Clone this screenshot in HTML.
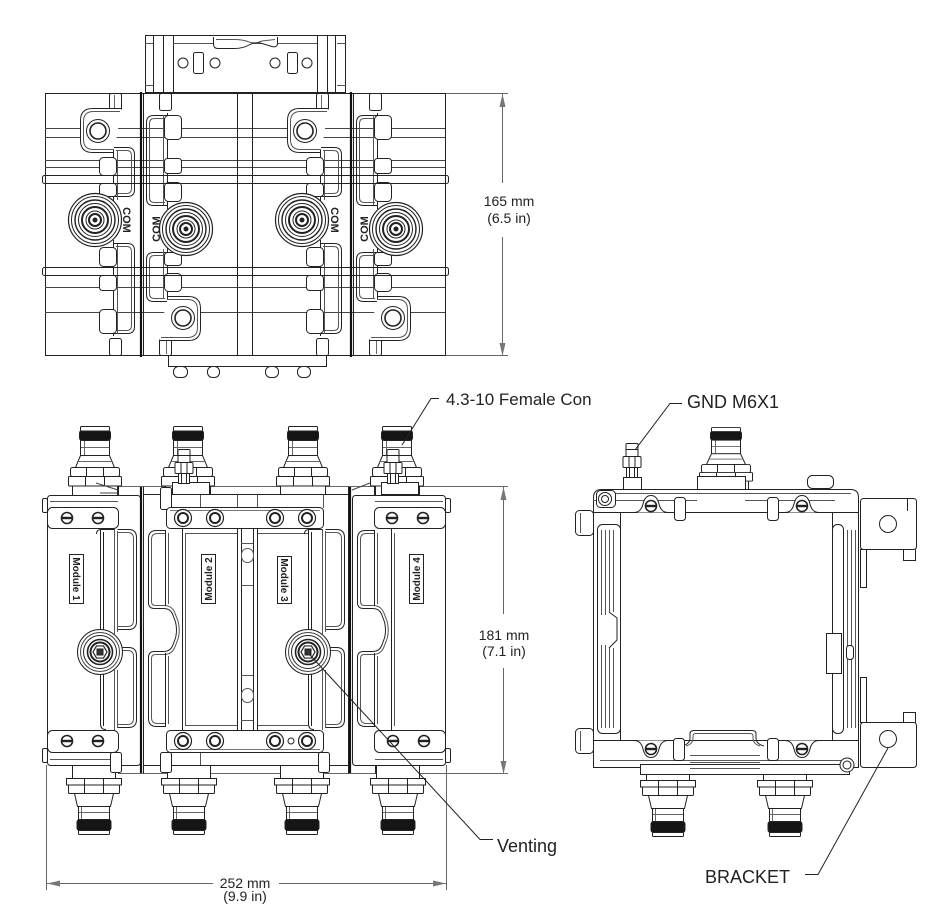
<!DOCTYPE html>
<html><head><meta charset="utf-8">
<style>
html,body{margin:0;padding:0;background:#fff}
body{width:934px;height:920px;overflow:hidden}
svg{display:block}
text{font-family:"Liberation Sans",Arial,sans-serif;fill:#222}
</style></head><body>
<svg xmlns="http://www.w3.org/2000/svg" width="934" height="920" viewBox="0 0 934 920">
<defs>
<g id="tm" fill="#fff" stroke="#222" stroke-width="1">
 <rect x="109.5" y="93.5" width="12" height="17" rx="2"/>
 <line x1="114.5" y1="95" x2="114.5" y2="109" stroke="#666"/>
 <path d="M121.5 108.5H92.5Q80.5 108.5 80.5 120.5V140.5Q80.5 152.5 92.5 152.5H114"/>
 <path d="M120 111.5H93.5Q83.5 111.5 83.5 121.5V139.5Q83.5 149.5 93.5 149.5H114" fill="none" stroke="#555"/>
 <circle cx="98" cy="131" r="11.5"/>
 <circle cx="98" cy="131" r="8" stroke-width="1.6"/>
 <path d="M114 147.5H127.5Q134.5 147.5 134.5 154.5V189.5Q134.5 196.5 127.5 196.5H114" fill="none"/>
 <path d="M116 150.5H126.5Q131.5 150.5 131.5 155.5V188.5Q131.5 193.5 126.5 193.5H116" fill="none" stroke="#555"/>
 <line x1="113.5" y1="150" x2="113.5" y2="204"/>
 <line x1="117.5" y1="150" x2="117.5" y2="200" stroke="#555"/>
 <rect x="99.5" y="157.5" width="17" height="18" rx="4"/>
 <rect x="99.5" y="183.5" width="17" height="13" rx="3"/>
 <circle cx="95" cy="220" r="26.5" stroke-width="1.2"/>
 <circle cx="95" cy="220" r="23.5" fill="none"/>
 <circle cx="95" cy="220" r="20" fill="none" stroke-width="1.4"/>
 <circle cx="95" cy="220" r="16.5" fill="none"/>
 <circle cx="95" cy="220" r="13" fill="none" stroke-width="2"/>
 <circle cx="95" cy="220" r="9" fill="none"/>
 <circle cx="95" cy="220" r="6" fill="none" stroke-width="2"/>
 <circle cx="95" cy="220" r="2" fill="#222"/>
 <path d="M114 243.5H127.5Q134.5 243.5 134.5 250.5V326.5Q134.5 333.5 127.5 333.5H114" fill="none"/>
 <path d="M116 246.5H126.5Q131.5 246.5 131.5 251.5V325.5Q131.5 330.5 126.5 330.5H116" fill="none" stroke="#555"/>
 <line x1="113.5" y1="240" x2="113.5" y2="336"/>
 <line x1="117.5" y1="244" x2="117.5" y2="334" stroke="#555"/>
 <rect x="99.5" y="247.5" width="17" height="19" rx="4"/>
 <rect x="99.5" y="275.5" width="17" height="15" rx="3"/>
 <rect x="99.5" y="309.5" width="17" height="24" rx="4"/>
 <rect x="109.5" y="338.5" width="12" height="17" rx="2"/>
</g>
<g id="ct" fill="#fff" stroke="#222" stroke-width="1">
 <rect x="-22.5" y="485.5" width="45" height="10"/>
 <rect x="-26.5" y="476.5" width="53" height="9.5" rx="1"/>
 <path d="M-9.5 477V486M9.5 477V486" fill="none"/>
 <rect x="-24.5" y="467.5" width="49" height="9" rx="2"/>
 <path d="M-8.5 468V476M8.5 468V476" fill="none"/>
 <path d="M-14.5 455.5L-19.5 467.5H19.5L14.5 455.5Z"/>
 <path d="M-17 461.5H17" fill="none" stroke="#666"/>
 <rect x="-14.5" y="439.5" width="29" height="16"/>
 <path d="M-14 447.5H14M-10.5 440V455" fill="none" stroke="#666"/>
 <rect x="-15.5" y="430.5" width="31" height="10" rx="2.5" fill="#151515"/>
 <rect x="-14.5" y="426.5" width="29" height="4.5" rx="1"/>
</g>
<g id="cb" fill="#fff" stroke="#222" stroke-width="1">
 <rect x="-21.5" y="765.5" width="43" height="13"/>
 <rect x="-27.5" y="778.5" width="55" height="6.5"/>
 <rect x="-25.5" y="785" width="51" height="8.5" rx="1"/>
 <path d="M-9.5 779V793M9.5 779V793" fill="none"/>
 <path d="M-19.5 793.5L-16.5 806.5H16.5L19.5 793.5Z"/>
 <rect x="-15.5" y="806.5" width="31" height="13"/>
 <path d="M-15 812.5H15M-12.5 807V819" fill="none" stroke="#666"/>
 <rect x="-17" y="819.5" width="34" height="11" rx="2.5" fill="#151515"/>
 <rect x="-15.5" y="830.5" width="31" height="4" rx="1"/>
</g>
<g id="ss">
 <circle r="5.5" fill="#fff" stroke="#222" stroke-width="1.6"/>
 <rect x="-5" y="-1.2" width="10" height="2.4" fill="#222"/>
</g>
<g id="sd">
 <circle r="8.5" fill="#fff" stroke="#222" stroke-width="1.2"/>
 <circle r="5" fill="none" stroke="#222" stroke-width="2"/>
</g>
<g id="vent">
 <circle r="22.5" fill="#fff" stroke="#222"/>
 <circle r="19.5" fill="none" stroke="#444"/>
 <circle r="16.5" fill="none" stroke="#222"/>
 <circle r="12.5" fill="none" stroke="#222" stroke-width="1.6"/>
 <circle r="9.5" fill="none" stroke="#222" stroke-width="2"/>
 <polygon points="7,0 3.5,6.06 -3.5,6.06 -7,0 -3.5,-6.06 3.5,-6.06" fill="#fff" stroke="#222" stroke-width="1.2"/>
 <rect x="-3" y="-3" width="6" height="6" fill="#333"/>
</g>
<g id="chR" fill="none" stroke="#222" stroke-width="1">
 <path d="M96.5 534Q96.5 529.5 101 529.5H114"/>
 <path d="M100.5 530V634M103.5 532V632"/>
 <path d="M114.5 529V634M117.5 531V632" stroke="#555"/>
 <path d="M117.5 529.5H128.5Q136.5 529.5 136.5 537.5V621.5Q136.5 629.5 128.5 629.5H118"/>
 <path d="M118 532.5H127.5Q133.5 532.5 133.5 538.5V620.5Q133.5 626.5 127.5 626.5H118" stroke="#555"/>
 <path d="M118 647.5H128.5Q136.5 647.5 136.5 655.5V719.5Q136.5 727.5 128.5 727.5H118"/>
 <path d="M118 650.5H127.5Q133.5 650.5 133.5 656.5V718.5Q133.5 724.5 127.5 724.5H118" stroke="#555"/>
 <path d="M100.5 670V724Q100.5 729.5 106 729.5M103.5 670V726"/>
 <path d="M114.5 670V730M117.5 670V728" stroke="#555"/>
 <use href="#vent" x="100" y="652"/>
</g>
<g id="chL" fill="none" stroke="#222" stroke-width="1">
 <path d="M165.5 530.5H156.5Q148.5 530.5 148.5 538.5V602.5Q148.5 608.5 154.5 608.5H164Q170 608.5 172.5 614L175.5 622Q177.5 630 175.5 638L172.5 646Q170 651.5 164 651.5H154.5Q148.5 651.5 148.5 657.5V718.5Q148.5 726.5 156.5 726.5H165.5"/>
 <path d="M165.5 533.5H157.5Q151.5 533.5 151.5 539.5V601.5Q151.5 605.5 155.5 605.5H164Q171.5 605.5 174.5 612L178 621Q180.5 630 178 639L174.5 648Q171.5 654.5 164 654.5H155.5Q151.5 654.5 151.5 658.5V717.5Q151.5 723.5 157.5 723.5H165.5" stroke="#555"/>
 <path d="M165.5 530V606M165.5 653V727"/>
 <path d="M168.5 533V604M168.5 656V724" stroke="#555"/>
 <path d="M182.5 529V730"/>
 <path d="M185.5 533V726" stroke="#555"/>
</g>
<g id="stud" fill="#fff" stroke="#222" stroke-width="1">
 <rect x="-5.5" y="473.5" width="11" height="10"/>
 <path d="M-2.5 474V483M2.5 474V483" fill="none"/>
 <rect x="-9" y="462.5" width="18" height="11" rx="1"/>
 <path d="M-3 463V473M3 463V473" fill="none"/>
 <rect x="-6" y="449.5" width="12" height="13" rx="1"/>
 <path d="M-6 455.5H6" fill="none"/>
</g>
</defs>
<rect width="934" height="920" fill="#fff"/>

<!-- ============ TOP VIEW ============ -->
<g fill="none" stroke="#222" stroke-width="1">
 <rect x="145.5" y="35.5" width="200" height="57" fill="#fff"/>
 <path d="M153.5 36V92M163.5 36V92M173.5 36V92M317.5 36V92M327.5 36V92M335.5 36V92"/>
 <path d="M173 43.5H317" stroke="#555"/>
 <path d="M145 43.5H153M337 43.5H346M145 85.5H153M337 85.5H346" stroke="#555"/>
 <path d="M213.5 37V44Q213.5 48.5 218 48.5H234Q243 48.5 249 45Q255 41.5 262 43.5L272 46.5Q277.5 48 277.5 43V37" fill="#fff"/>
 <path d="M216 39.5H234Q243 39.5 249 42Q255 44 262 41L275 39.5" stroke="#555"/>
 <rect x="193.5" y="52.5" width="10" height="21" rx="2"/>
 <rect x="287.5" y="52.5" width="10" height="21" rx="2"/>
 <circle cx="183" cy="63" r="5"/><circle cx="215" cy="63" r="5"/>
 <circle cx="275" cy="63" r="5"/><circle cx="307" cy="63" r="5"/>
 <rect x="45.5" y="93.5" width="400" height="262" fill="#fff"/>
 <path d="M45 128.5H445M45 137.5H445M45 160.5H445M45 167.5H445M45 287.5H445M45 312.5H445" stroke="#444"/>
 <path d="M143.5 93V356M237.5 93V356M252.5 93V356M353.5 93V356"/>
</g>
<use href="#tm"/>
<use href="#tm" transform="translate(96,0) rotate(180 92.5 224.5)"/>
<use href="#tm" transform="translate(207,0)"/>
<use href="#tm" transform="translate(306,0) rotate(180 92.5 224.5)"/>
<g fill="none" stroke="#222" stroke-width="1">
 <rect x="42.5" y="175.5" width="406" height="8" rx="2"/>
 <rect x="42.5" y="267.5" width="406" height="8" rx="2"/>
 <rect x="168.5" y="355.5" width="158" height="11" fill="#fff"/>
 <rect x="173.5" y="366.5" width="14" height="11" rx="5"/>
 <rect x="207.5" y="366.5" width="12" height="11" rx="5"/>
 <rect x="265.5" y="366.5" width="13" height="11" rx="5"/>
 <rect x="297.5" y="366.5" width="13" height="11" rx="5"/>
</g>
<path d="M141 92V357M351 92V357" stroke="#111" stroke-width="2.2"/>
<g font-size="11" font-weight="bold" text-anchor="middle">
 <text transform="translate(123,220) rotate(90)">COM</text>
 <text transform="translate(160,229) rotate(-90)">COM</text>
 <text transform="translate(331,220) rotate(90)">COM</text>
 <text transform="translate(368,229) rotate(-90)">COM</text>
</g>

<!-- 165 dim -->
<g stroke="#666" stroke-width="1" fill="none">
 <path d="M446 93.5H508M446 355.5H508"/>
 <path d="M502.5 94V183M502.5 237V356"/>
</g>
<g fill="#777">
 <polygon points="502.5,94 499.5,107 505.5,107"/>
 <polygon points="502.5,356 499.5,343 505.5,343"/>
</g>
<g font-size="14" text-anchor="middle">
 <text x="509" y="206">165 mm</text>
 <text x="509" y="223">(6.5 in)</text>
</g>

<!-- ============ FRONT VIEW ============ -->
<g stroke="#666" stroke-width="1" fill="none">
 <path d="M118 486.5H508M118 773.5H508"/>
 <path d="M46.5 765V890M446.5 765V890"/>
 <path d="M503.5 487V614M503.5 668V774"/>
 <path d="M47 883.5H213M279 883.5H446"/>
</g>
<g fill="#777">
 <polygon points="503.5,487 500.5,500 506.5,500"/>
 <polygon points="503.5,774 500.5,761 506.5,761"/>
 <polygon points="47,883.5 60,880.5 60,886.5"/>
 <polygon points="446,883.5 433,880.5 433,886.5"/>
</g>

<use href="#ct" x="95"/>
<use href="#ct" x="188"/>
<use href="#ct" x="303"/>
<use href="#ct" x="397"/>
<use href="#cb" x="94"/>
<use href="#cb" x="189"/>
<use href="#cb" x="302"/>
<use href="#cb" x="398"/>

<g fill="#fff" stroke="#222" stroke-width="1">
 <rect x="42.5" y="498.5" width="5" height="14" rx="1.5"/>
 <rect x="42.5" y="748.5" width="5" height="14" rx="1.5"/>
 <rect x="445.5" y="498.5" width="5" height="14" rx="1.5"/>
 <rect x="445.5" y="748.5" width="5" height="14" rx="1.5"/>
 <rect x="47.5" y="495.5" width="93" height="270" rx="3"/>
 <rect x="143.5" y="494.5" width="205" height="271"/>
 <rect x="352.5" y="495.5" width="93" height="270" rx="3"/>
 <path d="M118.5 495V486.5M118.5 765V773.5M143.5 494V486.5M143.5 766V773.5M348.5 494V486.5M348.5 766V773.5M375.5 495V486.5M375.5 765V773.5" fill="none"/>
 <path d="M50 501.5H118M50 759.5H118M375 501.5H443M375 759.5H443" fill="none" stroke="#555"/>
 <path d="M200.5 494.5V508M323.5 494.5V508M200.5 752V765M323.5 752V765M237.5 494V508M257.5 494V508" fill="none" stroke="#555"/>
 <path d="M96 483L118 490M100 493H118M370 483L352 490" fill="none" stroke="#444"/>
 <rect x="160.5" y="487.5" width="11" height="22" rx="2"/>
 <rect x="110.5" y="752.5" width="11" height="20" rx="2"/>
 <rect x="160.5" y="752.5" width="11" height="20" rx="2"/>
 <rect x="318.5" y="752.5" width="11" height="20" rx="2"/>
</g>

<!-- panels / spine -->
<g fill="none" stroke="#222" stroke-width="1">
 <path d="M185 533.5H237M257 533.5H308M185 725.5H237M257 725.5H308" stroke="#555"/>
 <path d="M237.5 529V730M241.5 529V730M253.5 529V730M257.5 529V730"/>
 <path d="M241 543.5H253M241 585.5H253M241 675.5H253M241 720.5H253" stroke="#555"/>
 <rect x="241.5" y="548.5" width="12" height="14" rx="6" stroke="#555"/>
 <rect x="241.5" y="688.5" width="12" height="14" rx="6" stroke="#555"/>
 <path d="M391.5 529V730M394.5 533V726" stroke="#555"/>
</g>
<use href="#chR"/>
<use href="#chR" transform="translate(208,0)"/>
<use href="#chL"/>
<use href="#chL" transform="translate(209,0)"/>

<!-- bars -->
<g fill="#fff" stroke="#222" stroke-width="1">
 <rect x="47.5" y="507.5" width="71" height="21" rx="5"/>
 <rect x="47.5" y="730.5" width="71" height="22" rx="5"/>
 <rect x="374.5" y="507.5" width="71" height="21" rx="5"/>
 <rect x="374.5" y="730.5" width="71" height="22" rx="5"/>
 <rect x="166.5" y="507.5" width="157" height="21" rx="4"/>
 <rect x="166.5" y="730.5" width="157" height="22" rx="4"/>
 <path d="M170 510.5H320M170 749.5H320" fill="none" stroke="#777"/>
 <circle cx="291" cy="741" r="3" fill="none"/>
</g>
<use href="#ss" x="67" y="518"/><use href="#ss" x="98" y="518"/>
<use href="#ss" x="392" y="518"/><use href="#ss" x="423" y="518"/>
<use href="#ss" x="67" y="741"/><use href="#ss" x="98" y="741"/>
<use href="#ss" x="393" y="741"/><use href="#ss" x="424" y="741"/>
<use href="#sd" x="183" y="518"/><use href="#sd" x="215" y="518"/>
<use href="#sd" x="275" y="518"/><use href="#sd" x="307" y="518"/>
<use href="#sd" x="183" y="741"/><use href="#sd" x="215" y="741"/>
<use href="#sd" x="275" y="741"/><use href="#sd" x="307" y="741"/>

<!-- studs front -->
<g fill="#fff" stroke="#222" stroke-width="1">
 <rect x="172.5" y="482.5" width="37" height="12"/>
 <rect x="381.5" y="482.5" width="37" height="12"/>
</g>
<use href="#stud" x="184"/>
<use href="#stud" x="393"/>

<!-- module labels -->
<g fill="#fff" stroke="#222" stroke-width="1">
 <rect x="69.5" y="554.5" width="14" height="49"/>
 <rect x="201.5" y="554.5" width="14" height="49"/>
 <rect x="277.5" y="556.5" width="14" height="47"/>
 <rect x="409.5" y="554.5" width="14" height="49"/>
</g>
<g font-size="10" font-weight="bold" text-anchor="middle">
 <text transform="translate(73,579) rotate(90)">Module 1</text>
 <text transform="translate(212,579) rotate(-90)">Module 2</text>
 <text transform="translate(281,580) rotate(90)">Module 3</text>
 <text transform="translate(420,579) rotate(-90)">Module 4</text>
</g>

<path d="M141 487V773M350 487V773" stroke="#111" stroke-width="2.2"/>

<g font-size="14" text-anchor="middle">
 <text x="504" y="640">181 mm</text>
 <text x="504" y="656">(7.1 in)</text>
 <text x="245" y="888">252 mm</text>
 <text x="245" y="901">(9.9 in)</text>
</g>

<!-- ============ RIGHT VIEW ============ -->
<use href="#cb" transform="translate(668,2)"/>
<use href="#cb" transform="translate(785,2)"/>
<use href="#ct" transform="translate(726,428) scale(1,0.9) translate(0,-427)"/>
<g fill="#fff" stroke="#222" stroke-width="1">
 <rect x="697.5" y="476.5" width="48" height="13"/>
 <rect x="623.5" y="477.5" width="18" height="12"/>
 <rect x="807.5" y="475.5" width="26" height="13" rx="5"/>
</g>
<use href="#stud" transform="translate(632,-6)"/>

<g fill="#fff" stroke="#222" stroke-width="1">
 <rect x="860.5" y="498.5" width="56" height="51" rx="3"/>
 <path d="M907.5 499V511" fill="none"/>
 <circle cx="888" cy="524" r="8.5"/>
 <path d="M903.5 549.5V560.5H915.5V549.5" fill="none"/>
 <rect x="860.5" y="549.5" width="6" height="38"/>
 <rect x="860.5" y="677.5" width="6" height="45"/>
 <path d="M903.5 722.5V712.5H915.5V722.5" fill="none"/>
 <rect x="860.5" y="722.5" width="56" height="45" rx="3"/>
 <circle cx="888" cy="739" r="8.5"/>

 <rect x="575.5" y="510.5" width="18" height="25" rx="4"/>
 <path d="M580.5 513V533" fill="none" stroke="#555"/>
 <rect x="575.5" y="728.5" width="18" height="25" rx="4"/>
 <path d="M580.5 731V751" fill="none" stroke="#555"/>

 <path d="M593.5 767.5V497.5Q593.5 489.5 601.5 489.5H850.5Q858.5 489.5 858.5 497.5V767.5Z"/>
 <rect x="640.5" y="764.5" width="209" height="10"/>
 <rect x="620.5" y="512.5" width="212" height="228"/>

 <path d="M600 493.5H851M593 500.5H599M615 500.5H697M745 500.5H835" fill="none" stroke="#555"/>
 <path d="M593 512.5H858M593 740.5H858" fill="none"/>
 <rect x="596.5" y="490.5" width="19" height="17" rx="4"/>
 <circle cx="605" cy="499" r="6.5"/>
 <circle cx="605" cy="499" r="3.5" fill="none"/>
 <path d="M634 512.5Q641 512.5 643 504Q645 495.5 651 495.5Q657 495.5 659 504Q661 512.5 668 512.5"/>
 <path d="M785 512.5Q792 512.5 794 504Q796 495.5 802 495.5Q808 495.5 810 504Q812 512.5 819 512.5"/>
 <rect x="674.5" y="497.5" width="11" height="23" rx="3"/>
 <rect x="767.5" y="497.5" width="11" height="23" rx="3"/>

 <rect x="597.5" y="524.5" width="23" height="209" rx="5" fill="none"/>
 <path d="M601.5 530V615M605.5 530V615M609.5 530V612M613.5 530V612M601.5 645V728M605.5 645V728M609.5 648V728M613.5 648V728" fill="none" stroke="#555"/>
 <path d="M609 612L617 618V640L609 648" fill="none"/>
 <rect x="832.5" y="524.5" width="11" height="209" rx="5" fill="none"/>
 <path d="M847.5 530V728M851.5 530V728M855.5 530V728" fill="none" stroke="#555"/>
 <rect x="826.5" y="633.5" width="15" height="40"/>
 <rect x="846.5" y="645.5" width="7" height="14" rx="3"/>

 <path d="M600 760.5H851" fill="none" stroke="#555"/>
 <path d="M690 755.5H760M690 762.5H760M690 768.5H760" fill="none" stroke="#555"/>
 <path d="M682 746Q690 744 690 738V734Q690 730.5 694 730.5H752Q756 730.5 756 734V738Q756 744 764 746" fill="none"/>
 <path d="M686 746Q693 744 693 738V736Q693 733.5 696 733.5H750Q753 733.5 753 736V738Q753 744 760 746" fill="none" stroke="#555"/>
 <path d="M634 740.5Q641 740.5 643 749Q645 757.5 651 757.5Q657 757.5 659 749Q661 740.5 668 740.5"/>
 <path d="M785 740.5Q792 740.5 794 749Q796 757.5 802 757.5Q808 757.5 810 749Q812 740.5 819 740.5"/>
 <rect x="673.5" y="738.5" width="11" height="22" rx="3"/>
 <rect x="767.5" y="738.5" width="11" height="22" rx="3"/>
 <circle cx="847" cy="765" r="7"/>
 <circle cx="847" cy="765" r="4" fill="none"/>
</g>
<use href="#ss" x="651" y="506"/>
<use href="#ss" x="802" y="506"/>
<use href="#ss" x="651" y="749"/>
<use href="#ss" x="802" y="749"/>

<!-- leaders -->
<g fill="none" stroke="#222" stroke-width="1">
 <path d="M402 445L431 398.5H439"/>
 <path d="M635 450L670 403.5H682"/>
 <path d="M888 748L818 874.5H805"/>
 <path d="M310 655L480 839.5H493"/>
</g>
<text x="446" y="405" font-size="17">4.3-10 Female Con</text>
<text x="687" y="408" font-size="18">GND M6X1</text>
<text x="705" y="883" font-size="18">BRACKET</text>
<text x="497" y="852" font-size="18">Venting</text>
</svg>
</body></html>
